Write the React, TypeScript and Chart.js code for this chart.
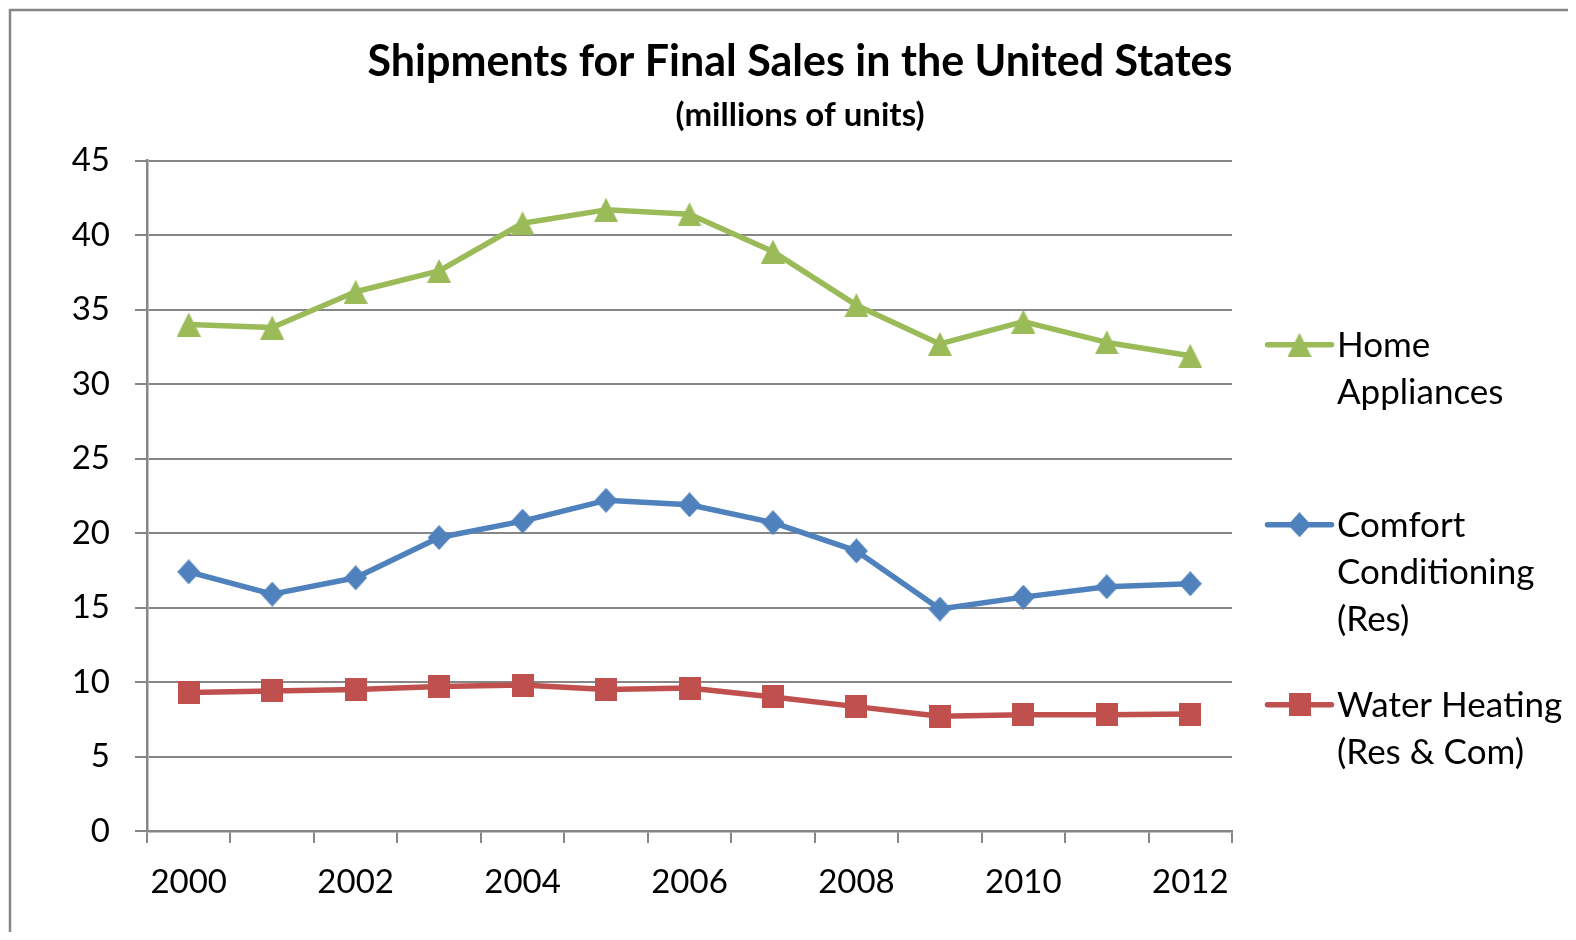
import React, { useEffect, useRef } from 'react';
import { Chart, registerables, layouts } from 'chart.js';

Chart.register(...registerables);

// ---------- data ----------
const YEARS = ['2000', '2001', '2002', '2003', '2004', '2005', '2006', '2007', '2008', '2009', '2010', '2011', '2012'];
const HOME_APPLIANCES = [34.0, 33.8, 36.2, 37.6, 40.8, 41.7, 41.4, 38.9, 35.3, 32.7, 34.2, 32.8, 31.9];
const COMFORT_CONDITIONING = [17.4, 15.9, 17.0, 19.7, 20.8, 22.2, 21.9, 20.7, 18.8, 14.9, 15.7, 16.4, 16.6];
const WATER_HEATING = [9.3, 9.4, 9.5, 9.7, 9.8, 9.5, 9.6, 9.0, 8.35, 7.7, 7.8, 7.8, 7.85];
const Y_MIN = 0;
const Y_MAX = 45;
const Y_STEP = 5;

const TITLE = 'Shipments for Final Sales in the United States';
const SUBTITLE = '(millions of units)';
const HOME_LABEL = ['Home', 'Appliances'];
const COMFORT_LABEL = ['Comfort', 'Conditioning', '(Res)'];
const WATER_LABEL = ['Water Heating', '(Res & Com)'];

// ---------- styles ----------
const GREEN = '#9BBB59';
const BLUE = '#4F81BD';
const RED = '#C0504D';
const GRID = '#868686';
const FONT = 'Lato, "Open Sans", sans-serif';

const VIEW_W = 1568;
const W = 1584;
const H = 924;

function makeMarker(shape: string, color: string): HTMLCanvasElement {
  const c = document.createElement('canvas');
  let w = 24, h = 24;
  if (shape === 'diamond') { w = 23; h = 25; }
  if (shape === 'square') { w = 22; h = 23; }
  c.width = w;
  c.height = h;
  const ctx = c.getContext('2d')!;
  ctx.fillStyle = color;
  ctx.beginPath();
  if (shape === 'triangle') {
    ctx.moveTo(w / 2, 0);
    ctx.lineTo(w, h);
    ctx.lineTo(0, h);
  } else if (shape === 'diamond') {
    ctx.moveTo(w / 2, 0);
    ctx.lineTo(w, h / 2);
    ctx.lineTo(w / 2, h);
    ctx.lineTo(0, h / 2);
  } else {
    ctx.rect(0, 0, w, h);
  }
  ctx.closePath();
  ctx.fill();
  return c;
}

export default function App() {
  const ref = useRef<HTMLCanvasElement | null>(null);

  useEffect(() => {
    const canvas = ref.current;
    if (!canvas) return;

    const triangle = makeMarker('triangle', GREEN);
    const diamond = makeMarker('diamond', BLUE);
    const square = makeMarker('square', RED);

    const legendItems = [
      { lines: HOME_LABEL, color: GREEN, marker: triangle },
      { lines: COMFORT_LABEL, color: BLUE, marker: diamond },
      { lines: WATER_LABEL, color: RED, marker: square },
    ];

    const frame = {
      id: 'frame',
      beforeDraw(chart: any) {
        const ctx = chart.ctx;
        ctx.save();
        ctx.fillStyle = '#ffffff';
        ctx.fillRect(0, 0, chart.width, chart.height);
        ctx.strokeStyle = GRID;
        ctx.lineWidth = 2.5;
        ctx.beginPath();
        ctx.moveTo(2, chart.height);
        ctx.lineTo(2, 2);
        ctx.lineTo(chart.width, 2);
        ctx.stroke();
        ctx.restore();
      },
    };

    const sideLegend = {
      id: 'sideLegend',
      beforeInit(chart: any) {
        const box: any = {
          position: 'right',
          weight: 1000,
          fullSize: false,
          options: {},
          top: 0, left: 0, right: 0, bottom: 0, width: 0, height: 0,
          isHorizontal() { return false; },
          update(maxWidth: number, maxHeight: number) {
            this.width = 360;
            this.height = maxHeight;
          },
          draw() {
            const ctx = chart.ctx;
            const area = chart.chartArea;
            const x0 = area.right + 33;
            const x1 = area.right + 102;
            const tx = area.right + 105;
            const lineGap = 47;
            const itemGap = 180;
            const firstY = area.top + 184;
            ctx.save();
            ctx.font = `35px ${FONT}`;
            ctx.fillStyle = '#000';
            ctx.textAlign = 'left';
            ctx.textBaseline = 'alphabetic';
            legendItems.forEach((it, i) => {
              const y = firstY + i * itemGap;
              ctx.strokeStyle = it.color;
              ctx.lineWidth = 5.5;
              ctx.lineCap = 'round';
              ctx.beginPath();
              ctx.moveTo(x0 + 2.5, y);
              ctx.lineTo(x1 - 2.5, y);
              ctx.stroke();
              const m = it.marker;
              ctx.drawImage(m, (x0 + x1) / 2 - m.width / 2, y - m.height / 2);
              it.lines.forEach((ln, j) => {
                ctx.fillText(ln, tx, y + j * lineGap + 12.5);
              });
            });
            ctx.restore();
          },
        };
        layouts.addBox(chart, box);
      },
    };

    const common = {
      borderWidth: 5.5,
      pointRadius: 12,
      borderJoinStyle: 'round',
      tension: 0,
    };

    const chart = new Chart(canvas, {
      type: 'line',
      data: {
        labels: YEARS,
        datasets: [
          {
            ...common,
            label: HOME_LABEL.join(' '),
            data: HOME_APPLIANCES,
            borderColor: GREEN,
            backgroundColor: GREEN,
            pointStyle: triangle as any,
          },
          {
            ...common,
            label: COMFORT_LABEL.join(' '),
            data: COMFORT_CONDITIONING,
            borderColor: BLUE,
            backgroundColor: BLUE,
            pointStyle: diamond as any,
          },
          {
            ...common,
            label: WATER_LABEL.join(' '),
            data: WATER_HEATING,
            borderColor: RED,
            backgroundColor: RED,
            pointStyle: square as any,
          },
        ] as any,
      },
      options: {
        responsive: false,
        animation: false,
        devicePixelRatio: 1,
        layout: { padding: 0 },
        font: { family: FONT },
        plugins: {
          legend: { display: false },
          tooltip: { enabled: false },
          title: {
            display: true,
            text: TITLE,
            color: '#000',
            font: { family: FONT, size: 43, weight: 'bold', lineHeight: 1.2 },
            padding: { top: 28.8, bottom: 0 },
          },
          subtitle: {
            display: true,
            text: SUBTITLE,
            color: '#000',
            font: { family: FONT, size: 33, weight: 'bold', lineHeight: 1.2 },
            padding: { top: 7.3, bottom: 25.4 },
          },
        },
        scales: {
          x: {
            offset: true,
            grid: {
              display: true,
              drawOnChartArea: false,
              drawTicks: true,
              tickLength: 12,
              offset: true,
              color: GRID,
              lineWidth: 2,
            },
            border: { display: true, color: GRID, width: 2.5 },
            ticks: {
              autoSkip: false,
              maxRotation: 0,
              color: '#000',
              padding: 20,
              font: { family: FONT, size: 33 },
              callback: (_v: any, i: number) => (i % 2 === 0 ? YEARS[i] : ''),
            },
            afterFit: (s: any) => { s.height = 101; },
          },
          y: {
            min: Y_MIN,
            max: Y_MAX,
            ticks: {
              stepSize: Y_STEP,
              color: '#000',
              padding: 25,
              font: { family: FONT, size: 33 },
            },
            grid: { color: GRID, lineWidth: 2, tickLength: 12, drawTicks: true },
            border: { display: true, color: GRID, width: 2.5 },
            afterFit: (s: any) => { s.width = 139; },
          },
        },
      } as any,
      plugins: [frame, sideLegend],
    });

    return () => chart.destroy();
  }, []);

  return (
    <div style={{ width: VIEW_W, height: H, position: 'relative', overflow: 'hidden' }}>
      <canvas ref={ref} width={W} height={H} style={{ display: 'block', width: W, height: H }} />
    </div>
  );
}
